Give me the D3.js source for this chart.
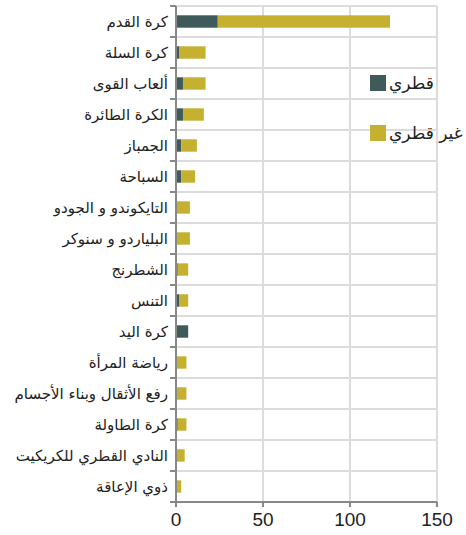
<!DOCTYPE html>
<html>
<head>
<meta charset="utf-8">
<script src="https://cdn.jsdelivr.net/npm/d3@7"></script>
<style>
  body { margin: 0; background: #fff; }
  svg { display: block; }
</style>
</head>
<body>
<svg id="chart" width="466" height="535"></svg>
<script>
"use strict";

// sports, top to bottom
const categories = [
  'كرة القدم', 'كرة السلة', 'ألعاب القوى', 'الكرة الطائرة', 'الجمباز', 'السباحة',
  'التايكوندو و الجودو', 'البلياردو و سنوكر', 'الشطرنج', 'التنس', 'كرة اليد',
  'رياضة المرأة', 'رفع الأثقال وبناء الأجسام', 'كرة الطاولة',
  'النادي القطري للكريكيت', 'ذوي الإعاقة'
];
const qatari    = [24, 2, 4, 4, 3, 3, 0, 0, 1, 2, 7, 0, 0, 1, 0, 0];
const nonQatari = [99, 15, 13, 12, 9, 8, 8, 8, 6, 5, 0, 6, 6, 5, 5, 3];
const seriesNames = ['قطري', 'غير قطري'];
const seriesColors = ['#3e5a5a', '#c6b030'];
const xTicks = [0, 50, 100, 150];

const margin = { top: 6, right: 29, bottom: 33, left: 176 };
const width = 466 - margin.left - margin.right;
const height = 535 - margin.top - margin.bottom;

const svg = d3.select('#chart');
const g = svg.append('g').attr('transform', `translate(${margin.left},${margin.top})`);

const x = d3.scaleLinear().domain([0, 150]).range([0, width]);
const y = d3.scaleBand().domain(categories).range([0, height])
  .paddingInner(0.6).paddingOuter(0.3);
const step = y.step();

const rows = categories.map((c, i) => ({ cat: c, q: qatari[i], n: nonQatari[i] }));
const stack = d3.stack().keys(['q', 'n'])(rows);

// grid
const boundaries = d3.range(categories.length + 1).map((i) => i * step);
g.append('g').selectAll('line').data(boundaries).join('line')
  .attr('x1', 0).attr('x2', width)
  .attr('y1', (d) => d).attr('y2', (d) => d)
  .attr('stroke', '#dcdcdc').attr('stroke-width', 2);
g.append('g').selectAll('line').data(xTicks.slice(1)).join('line')
  .attr('x1', (d) => x(d)).attr('x2', (d) => x(d))
  .attr('y1', 0).attr('y2', height)
  .attr('stroke', '#dcdcdc').attr('stroke-width', 2);

// bars
g.append('g').selectAll('g').data(stack).join('g')
  .attr('fill', (d, i) => seriesColors[i])
  .selectAll('rect').data((d) => d).join('rect')
  .attr('x', (d) => x(d[0]))
  .attr('y', (d) => y(d.data.cat))
  .attr('width', (d) => Math.max(0, x(d[1]) - x(d[0])))
  .attr('height', y.bandwidth());

// y axis: line + ticks at band boundaries
const yAxis = g.append('g');
yAxis.append('line')
  .attr('x1', 0).attr('x2', 0).attr('y1', 0).attr('y2', height)
  .attr('stroke', '#888').attr('stroke-width', 2);
yAxis.selectAll('.tick').data(boundaries).join('line')
  .attr('x1', -6).attr('x2', 0)
  .attr('y1', (d) => d).attr('y2', (d) => d)
  .attr('stroke', '#888').attr('stroke-width', 2);
yAxis.selectAll('text').data(categories).join('text')
  .attr('x', -8)
  .attr('y', (d) => y(d) + y.bandwidth() / 2)
  .attr('dy', '0.35em')
  .attr('text-anchor', 'end')
  .attr('font-family', 'DejaVu Sans, sans-serif')
  .attr('font-size', 15)
  .attr('fill', '#222')
  .text((d) => d);

// x axis
const xAxis = g.append('g').attr('transform', `translate(0,${height})`);
xAxis.append('line')
  .attr('x1', -6).attr('x2', width).attr('y1', 0).attr('y2', 0)
  .attr('stroke', '#888').attr('stroke-width', 2);
xAxis.selectAll('.tick').data(xTicks).join('line')
  .attr('x1', (d) => x(d)).attr('x2', (d) => x(d))
  .attr('y1', 0).attr('y2', 5)
  .attr('stroke', '#888').attr('stroke-width', 2);
xAxis.selectAll('text').data(xTicks).join('text')
  .attr('x', (d) => x(d))
  .attr('y', 24)
  .attr('text-anchor', 'middle')
  .attr('font-family', 'Liberation Sans, Arial, sans-serif')
  .attr('font-size', 19)
  .attr('fill', '#222')
  .text((d) => d);

// legend
const legend = svg.append('g').attr('transform', 'translate(370,75)');
seriesNames.forEach((name, i) => {
  const item = legend.append('g').attr('transform', `translate(0,${i * 50})`);
  item.append('rect').attr('width', 16).attr('height', 16).attr('fill', seriesColors[i]);
  item.append('text')
    .attr('x', 19).attr('y', 8).attr('dy', '0.35em')
    .attr('text-anchor', 'start')
    .attr('direction', 'ltr')
    .attr('font-family', 'DejaVu Sans, sans-serif')
    .attr('font-size', 17)
    .attr('fill', '#222')
    .text(name);
});
</script>
</body>
</html>
